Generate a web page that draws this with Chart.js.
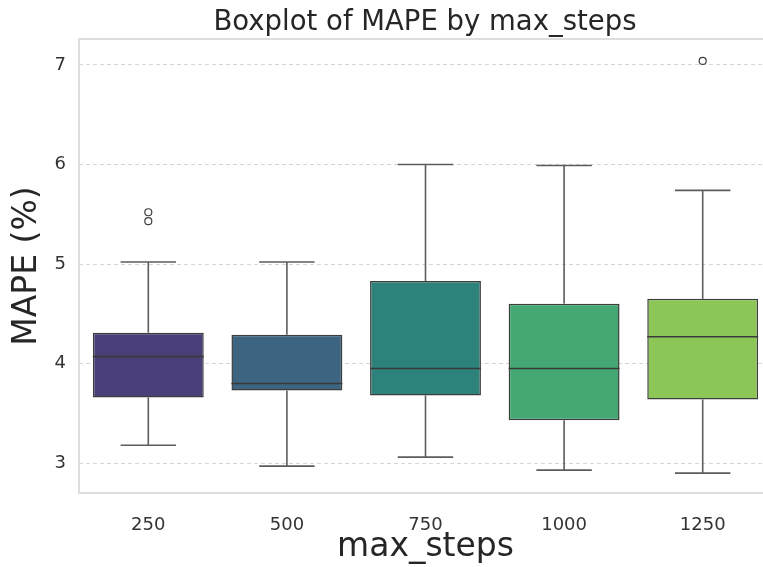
<!DOCTYPE html>
<html>
<head>
<meta charset="utf-8">
<script src="https://cdn.jsdelivr.net/npm/chart.js@4/dist/chart.umd.min.js"></script>
<style>
  html, body { margin: 0; padding: 0; overflow: hidden; background: #fff; }
</style>
</head>
<body>
<canvas id="chart" width="850" height="567"></canvas>
<script>
const categories = ['250', '500', '750', '1000', '1250'];
const whiskerLow = [3.18, 2.97, 3.06, 2.93, 2.90];
const q1 = [3.66, 3.73, 3.68, 3.43, 3.64];
const median = [4.07, 3.80, 3.95, 3.95, 4.27];
const q3 = [4.31, 4.29, 4.83, 4.60, 4.65];
const whiskerHigh = [5.02, 5.02, 6.00, 5.99, 5.74];
const outlierCats = ['250', '250', '1250'];
const outlierVals = [5.52, 5.43, 7.04];
const boxColors = ['#4a3f78', '#3d6480', '#2d827b', '#45a874', '#8cc657'];
const yTicks = [3, 4, 5, 6, 7];

const FONT = "'DejaVu Sans', sans-serif";

// light frame round the plot area
const frame = {
  id: 'frame',
  beforeDatasetsDraw(chart) {
    const { ctx, chartArea: a } = chart;
    ctx.save();
    ctx.strokeStyle = '#dedede';
    ctx.lineWidth = 2;
    ctx.strokeRect(a.left, a.top, a.right - a.left, a.bottom - a.top);
    ctx.restore();
  }
};

// whiskers, caps and medians on top of the floating bars
const boxLines = {
  id: 'boxLines',
  afterDatasetsDraw(chart) {
    const { ctx, scales: { y } } = chart;
    const meta = chart.getDatasetMeta(0);
    const seg = (x1, y1, x2, y2) => {
      ctx.beginPath();
      ctx.moveTo(x1, y1);
      ctx.lineTo(x2, y2);
      ctx.stroke();
    };
    ctx.save();
    meta.data.forEach((bar, i) => {
      const x = bar.x;
      const half = bar.width / 2;
      const cap = bar.width / 4;
      ctx.strokeStyle = '#5c5c5c';
      ctx.lineWidth = 1.6;
      seg(x, y.getPixelForValue(q1[i]), x, y.getPixelForValue(whiskerLow[i]));
      seg(x, y.getPixelForValue(q3[i]), x, y.getPixelForValue(whiskerHigh[i]));
      seg(x - cap, y.getPixelForValue(whiskerLow[i]), x + cap, y.getPixelForValue(whiskerLow[i]));
      seg(x - cap, y.getPixelForValue(whiskerHigh[i]), x + cap, y.getPixelForValue(whiskerHigh[i]));
      ctx.strokeStyle = '#3a3a3a';
      seg(x - half, y.getPixelForValue(median[i]), x + half, y.getPixelForValue(median[i]));
    });
    ctx.restore();
  }
};

new Chart(document.getElementById('chart'), {
  type: 'bar',
  data: {
    labels: categories,
    datasets: [
      {
        label: 'IQR',
        data: categories.map((c, i) => [q1[i], q3[i]]),
        backgroundColor: boxColors,
        borderColor: '#3d3d3d',
        borderWidth: 1.5,
        borderSkipped: false,
        barPercentage: 0.8,
        categoryPercentage: 1
      },
      {
        type: 'line',
        label: 'Outliers',
        data: outlierCats.map((c, i) => ({ x: c, y: outlierVals[i] })),
        showLine: false,
        pointRadius: 3.5,
        pointBackgroundColor: '#ffffff',
        pointBorderColor: '#3d3d3d',
        pointBorderWidth: 1.2
      }
    ]
  },
  options: {
    responsive: false,
    animation: false,
    layout: { padding: 0 },
    plugins: {
      legend: { display: false },
      tooltip: { enabled: false },
      title: {
        display: true,
        text: 'Boxplot of MAPE by max_steps',
        color: '#262626',
        font: { family: FONT, size: 27.5, weight: 'normal' },
        padding: { top: 6, bottom: 0 }
      }
    },
    scales: {
      x: {
        type: 'category',
        offset: true,
        grid: { display: false },
        border: { display: false },
        ticks: { color: '#333333', padding: 14, font: { family: FONT, size: 18 } },
        title: {
          display: true,
          text: 'max_steps',
          color: '#262626',
          font: { family: FONT, size: 33 },
          padding: { top: 0, bottom: 0 }
        },
        afterFit(scale) { scale.height = 74; }
      },
      y: {
        type: 'linear',
        min: 2.7,
        max: 7.26,
        afterBuildTicks(scale) { scale.ticks = yTicks.map(v => ({ value: v })); },
        grid: { color: '#d6d6d6', lineWidth: 1, drawTicks: false },
        border: { display: false, dash: [4, 3] },
        ticks: { color: '#333333', padding: 13, font: { family: FONT, size: 18 } },
        title: {
          display: true,
          text: 'MAPE (%)',
          color: '#262626',
          font: { family: FONT, size: 33 },
          padding: { top: 8, bottom: 4 }
        },
        afterFit(scale) { scale.width = 79; }
      },
      // empty right-hand strip: the figure runs past the photographed window
      yRight: {
        type: 'linear',
        position: 'right',
        display: true,
        grid: { display: false },
        border: { display: false },
        ticks: { display: false },
        afterFit(scale) { scale.width = 78; }
      }
    }
  },
  plugins: [frame, boxLines]
});
</script>
</body>
</html>
